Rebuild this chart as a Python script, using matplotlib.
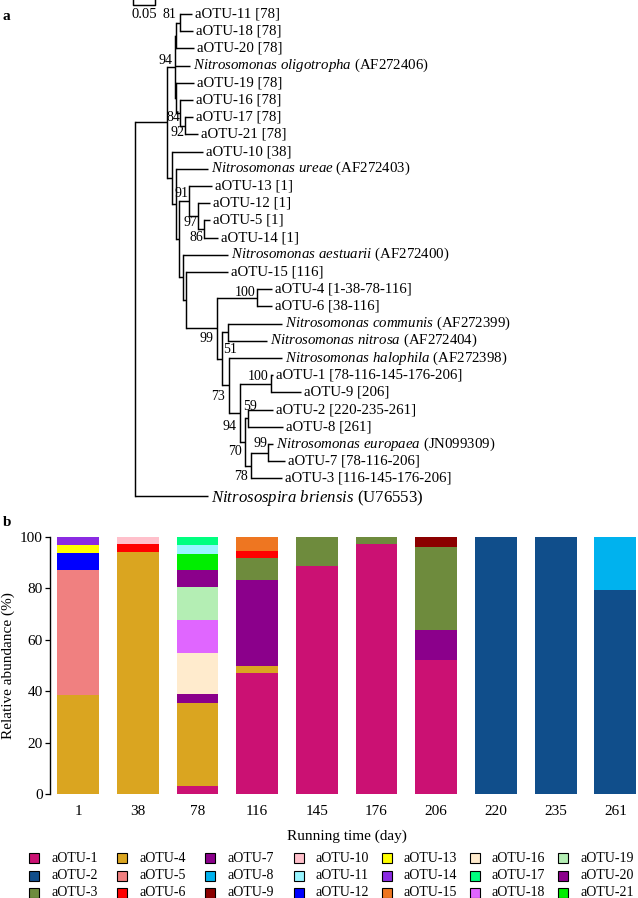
import matplotlib
matplotlib.use("Agg")
import matplotlib.pyplot as plt
from matplotlib.patches import Rectangle
import numpy as np

plt.rcParams['font.family'] = ['Liberation Serif', 'DejaVu Serif']
plt.rcParams['mathtext.fontset'] = 'custom'
plt.rcParams['mathtext.it'] = 'Liberation Serif:italic'
plt.rcParams['mathtext.rm'] = 'Liberation Serif'

# ------------------------------------------------------------------
# DATA (a): phylogenetic tree, branch lengths in substitutions / site
# ------------------------------------------------------------------
def L(name, length):
    return {'name': name, 'len': length}

def N(nid, length, children, boot=None):
    return {'id': nid, 'len': length, 'children': children, 'boot': boot}

tree = N('root', 0.0, [
    N('N1', 0.072, [
        N('O', 0.020, [
            N('A', 0.002, [
                N('n81', 0.008, [L('aOTU-11 [78]', 0.027), L('aOTU-18 [78]', 0.029)], 81),
                L('aOTU-20 [78]', 0.039)]),
            L('Nitrosomonas oligotropha (AF272406)', 0.033),
            N('B', 0.002, [
                L('aOTU-19 [78]', 0.039),
                N('n84', 0.008, [
                    L('aOTU-16 [78]', 0.029),
                    N('n92', 0.011, [L('aOTU-17 [78]', 0.019), L('aOTU-21 [78]', 0.030)], 92)], 84)]),
        ], 94),
        N('R', 0.012, [
            L('aOTU-10 [38]', 0.071),
            N('R2', 0.010, [
                L('Nitrosomonas ureae (AF272403)', 0.073),
                N('R3', 0.005, [
                    N('n91', 0.023, [
                        L('aOTU-13 [1]', 0.053),
                        N('n97', 0.021, [
                            L('aOTU-12 [1]', 0.028),
                            N('n86', 0.013, [L('aOTU-5 [1]', 0.015), L('aOTU-14 [1]', 0.033)], 86)], 97)], 91),
                    N('R4', 0.011, [
                        L('Nitrosomonas aestuarii (AF272400)', 0.102),
                        N('R5', 0.006, [
                            L('aOTU-15 [116]', 0.095),
                            N('R6', 0.070, [
                                N('n100a', 0.091, [L('aOTU-4 [1-38-78-116]', 0.034),
                                                   L('aOTU-6 [38-116]', 0.034)], 100),
                                N('R7', 0.011, [
                                    N('n51', 0.014, [L('Nitrosomonas communis (AF272399)', 0.122),
                                                     L('Nitrosomonas nitrosa (AF272404)', 0.088)], 51),
                                    N('R8', 0.017, [
                                        L('Nitrosomonas halophila (AF272398)', 0.119),
                                        N('R9', 0.024, [
                                            N('n100b', 0.070, [L('aOTU-1 [78-116-145-176-206]', 0.005),
                                                               L('aOTU-9 [206]', 0.070)], 100),
                                            N('R10', 0.011, [
                                                N('n59', 0.008, [L('aOTU-2 [220-235-261]', 0.056),
                                                                 L('aOTU-8 [261]', 0.079)], 59),
                                                N('n78', 0.015, [
                                                    N('n99b', 0.038, [L('Nitrosomonas europaea (JN099309)', 0.011),
                                                                      L('aOTU-7 [78-116-206]', 0.038)], 99),
                                                    L('aOTU-3 [116-145-176-206]', 0.070)], 78)], 70)], 94)], 73)])], 99)])])])])]),
    ]),
    L('Nitrosospira briensis (U76553)', 0.166),
])
scale_bar_value = 0.05

# ------------------------------------------------------------------
# DATA (b): relative abundance (%) per sampling day
# ------------------------------------------------------------------
days = ['1', '38', '78', '116', '145', '176', '206', '220', '235', '261']
otus = ['aOTU-%d' % i for i in range(1, 22)]
abundance = {
    'aOTU-1':  [0, 0, 3.1, 47.1, 88.8, 97.4, 52.0, 0, 0, 0],
    'aOTU-2':  [0, 0, 0, 0, 0, 0, 0, 100, 100, 79.3],
    'aOTU-3':  [0, 0, 0, 8.4, 11.2, 2.6, 32.3, 0, 0, 0],
    'aOTU-4':  [38.7, 94.3, 32.3, 2.7, 0, 0, 0, 0, 0, 0],
    'aOTU-5':  [48.5, 0, 0, 0, 0, 0, 0, 0, 0, 0],
    'aOTU-6':  [0, 3.0, 0, 2.8, 0, 0, 0, 0, 0, 0],
    'aOTU-7':  [0, 0, 3.4, 33.5, 0, 0, 11.8, 0, 0, 0],
    'aOTU-8':  [0, 0, 0, 0, 0, 0, 0, 0, 0, 20.7],
    'aOTU-9':  [0, 0, 0, 0, 0, 0, 3.9, 0, 0, 0],
    'aOTU-10': [0, 2.7, 0, 0, 0, 0, 0, 0, 0, 0],
    'aOTU-11': [0, 0, 3.3, 0, 0, 0, 0, 0, 0, 0],
    'aOTU-12': [6.4, 0, 0, 0, 0, 0, 0, 0, 0, 0],
    'aOTU-13': [3.2, 0, 0, 0, 0, 0, 0, 0, 0, 0],
    'aOTU-14': [3.2, 0, 0, 0, 0, 0, 0, 0, 0, 0],
    'aOTU-15': [0, 0, 0, 5.5, 0, 0, 0, 0, 0, 0],
    'aOTU-16': [0, 0, 16.1, 0, 0, 0, 0, 0, 0, 0],
    'aOTU-17': [0, 0, 3.2, 0, 0, 0, 0, 0, 0, 0],
    'aOTU-18': [0, 0, 12.7, 0, 0, 0, 0, 0, 0, 0],
    'aOTU-19': [0, 0, 13.1, 0, 0, 0, 0, 0, 0, 0],
    'aOTU-20': [0, 0, 6.5, 0, 0, 0, 0, 0, 0, 0],
    'aOTU-21': [0, 0, 6.3, 0, 0, 0, 0, 0, 0, 0],
}
stack_order = ['aOTU-1', 'aOTU-2', 'aOTU-4', 'aOTU-5', 'aOTU-7', 'aOTU-3', 'aOTU-6',
               'aOTU-9', 'aOTU-10', 'aOTU-12', 'aOTU-13', 'aOTU-14', 'aOTU-15',
               'aOTU-16', 'aOTU-18', 'aOTU-19', 'aOTU-20', 'aOTU-21', 'aOTU-8',
               'aOTU-11', 'aOTU-17']
y_ticks = [0, 20, 40, 60, 80, 100]

# ------------------------------------------------------------------
# STYLE
# ------------------------------------------------------------------
colors = {
    'aOTU-1': '#CB1173', 'aOTU-2': '#104E8B', 'aOTU-3': '#6E8B3D',
    'aOTU-4': '#DAA520', 'aOTU-5': '#F08080', 'aOTU-6': '#FF0000',
    'aOTU-7': '#8B008B', 'aOTU-8': '#00B2EE', 'aOTU-9': '#8B0000',
    'aOTU-10': '#FFC0CB', 'aOTU-11': '#98F5FF', 'aOTU-12': '#0000FF',
    'aOTU-13': '#FFFF00', 'aOTU-14': '#8A2BE2', 'aOTU-15': '#EE7621',
    'aOTU-16': '#FFEBCD', 'aOTU-17': '#00FF7F', 'aOTU-18': '#E066FF',
    'aOTU-19': '#B4EEB4', 'aOTU-20': '#8B008B', 'aOTU-21': '#00EE00',
}
# bootstrap label placement: (ha, dx px, dy px) relative to node
boot_pos = {
    'n81': ('right', -4, -8.5), 'O': ('right', -2.5, -6), 'n84': ('right', 0, 5),
    'n92': ('right', -0.5, 6.5), 'n91': ('right', -0.5, -8), 'n97': ('right', -1, 6),
    'n86': ('right', -0.5, 8.5), 'R6': ('right', -3, 10), 'n100a': ('right', -1.5, -5),
    'n51': ('center', 2, 17), 'R8': ('right', -4, 11), 'R9': ('right', -3, 14),
    'n100b': ('right', -2.5, -7), 'n59': ('center', 2, -11.5), 'R10': ('right', -3, 10),
    'n99b': ('right', -0.5, -9), 'n78': ('right', -3.5, 11),
}

W, H = 638, 898
fig = plt.figure(figsize=(W / 100, H / 100), dpi=100)

def fx(px):
    return px / W

def fy(py):
    return 1 - py / H

# ---------------- tree panel ----------------
PX_PER_UNIT = 440.0
ROOT_PX = 135.0
LEAF_TOP_PX = 14.0
LEAF_STEP_PX = 17.2
TREE_BOTTOM_PX = 510.0
LW = 1.05

axt = fig.add_axes([0, fy(TREE_BOTTOM_PX), 1, TREE_BOTTOM_PX / H])
axt.set_xlim(-ROOT_PX / PX_PER_UNIT, (W - ROOT_PX) / PX_PER_UNIT)
axt.set_ylim((TREE_BOTTOM_PX - LEAF_TOP_PX) / LEAF_STEP_PX, -LEAF_TOP_PX / LEAF_STEP_PX)
axt.axis('off')

leaves = []

def layout(node, x0):
    node['x'] = x0 + node['len']
    if 'children' in node:
        for c in node['children']:
            layout(c, node['x'])
        node['y'] = 0.5 * (node['children'][0]['y'] + node['children'][-1]['y'])
    else:
        node['y'] = len(leaves)
        leaves.append(node)

layout(tree, 0.0)

def fmt(name):
    if name.startswith('Nitroso'):
        sp, acc = name.rsplit(' (', 1)
        return r'$\mathit{' + sp.replace(' ', r'\ ') + '}$ (' + acc
    return name

dxu = 1.0 / PX_PER_UNIT
dyu = 1.0 / LEAF_STEP_PX

def draw(node):
    if 'children' not in node:
        big = 'briensis' in node['name']
        fs = 12.1 if big else 10.7
        axt.text(node['x'] + 3 * dxu, node['y'] + (0.12 if big else 0), fmt(node['name']),
                 fontsize=fs, ha='left', va='center')
        return
    ys = [c['y'] for c in node['children']]
    axt.plot([node['x'], node['x']], [min(ys), max(ys)], color='black', lw=LW,
             solid_capstyle='projecting')
    for c in node['children']:
        axt.plot([node['x'], c['x']], [c['y'], c['y']], color='black', lw=LW,
                 solid_capstyle='butt')
        draw(c)
    if node.get('boot') is not None:
        ha, dx, dy = boot_pos[node['id']]
        axt.text(node['x'] + dx * dxu, node['y'] + dy * dyu, str(node['boot']),
                 fontsize=10, ha=ha, va='center')

draw(tree)

# scale bar
sb_x0 = -2 * dxu
sb_y = -9 * dyu
axt.plot([sb_x0, sb_x0, sb_x0 + scale_bar_value, sb_x0 + scale_bar_value],
         [sb_y - 5 * dyu, sb_y, sb_y, sb_y - 5 * dyu], color='black', lw=LW, clip_on=False)
axt.text(sb_x0 + scale_bar_value / 2, 1 * dyu, '%.2f' % scale_bar_value, fontsize=10.5,
         ha='center', va='center')

fig.text(fx(6.5), fy(17), 'a', fontsize=11, fontweight='bold', ha='center', va='center')

# ---------------- bar panel ----------------
axb = fig.add_axes([fx(50), fy(794), (W - 50) / W, (794 - 537) / H])
xpos = np.arange(len(days))
bottom = np.zeros(len(days))
for otu in stack_order:
    vals = np.array(abundance[otu], dtype=float)
    axb.bar(xpos, vals, width=0.7, bottom=bottom, color=colors[otu], linewidth=0)
    bottom += vals
axb.set_xlim(-0.47, 9.38)
axb.set_ylim(0, 100)
for s in ['top', 'right', 'bottom']:
    axb.spines[s].set_visible(False)
axb.spines['left'].set_linewidth(1.0)
axb.set_yticks(y_ticks)
axb.set_yticklabels([str(v) for v in y_ticks])
axb.tick_params(axis='y', direction='out', length=3.6, width=0.9, labelsize=11, pad=1.5)
axb.set_xticks(xpos)
axb.set_xticklabels(days)
axb.tick_params(axis='x', length=0, labelsize=11, pad=8)

fig.text(fx(8.5), fy(666), 'Relative abundance (%)', rotation=90, fontsize=11,
         ha='center', va='center')
fig.text(fx(347), fy(836), 'Running time (day)', fontsize=11, ha='center', va='center')
fig.text(fx(7), fy(522), 'b', fontsize=11, fontweight='bold', ha='center', va='center')

# ---------------- legend (3 rows x 7 columns, column-major) ----------------
for i, otu in enumerate(otus):
    col, row = i // 3, i % 3
    cx = 34 + 88.2 * col
    cy = 858 + 17.5 * row
    fig.patches.append(Rectangle((fx(cx - 5), fy(cy + 5)), 10 / W, 10 / H,
                                 transform=fig.transFigure, facecolor=colors[otu],
                                 edgecolor='black', linewidth=0.8))
    fig.text(fx(cx + 17), fy(cy), otu, fontsize=10, ha='left', va='center')

fig.savefig('out.png', dpi=100)
